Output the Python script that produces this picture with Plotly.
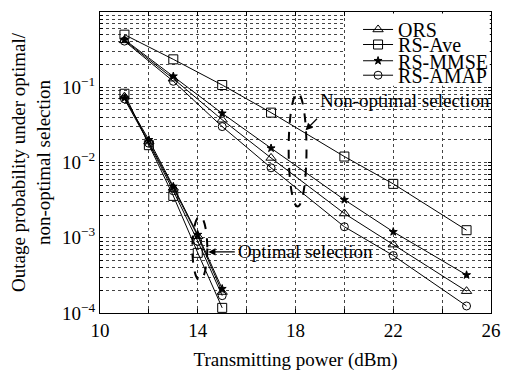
import plotly.graph_objects as go

# ---- data ----
x_nonopt = [11, 13, 15, 17, 20, 22, 25]
ors_non = [0.42, 0.13, 0.037, 0.0115, 0.0021, 0.00081, 0.000195]
ave_non = [0.50, 0.235, 0.107, 0.046, 0.012, 0.0052, 0.00126]
mmse_non = [0.43, 0.14, 0.045, 0.0155, 0.0032, 0.0012, 0.00032]
amap_non = [0.41, 0.12, 0.030, 0.0085, 0.0014, 0.00058, 0.000124]

x_opt = [11, 12, 13, 14, 15]
ors_opt = [0.075, 0.019, 0.0046, 0.00105, 0.00019]
ave_opt = [0.082, 0.017, 0.0036, 0.00063, 0.000117]
mmse_opt = [0.072, 0.020, 0.0048, 0.0011, 0.00021]
amap_opt = [0.070, 0.018, 0.0042, 0.0009, 0.00017]

series_names = ["ORS", "RS-Ave", "RS-MMSE", "RS-AMAP"]
x_ticks = [10, 14, 18, 22, 26]
y_decades = [-4, -3, -2, -1, 0]

FONT = "Liberation Serif"
symbols = {"ORS": "triangle-up-open", "RS-Ave": "square-open",
           "RS-MMSE": "star", "RS-AMAP": "circle-open"}
sizes = {"ORS": 9, "RS-Ave": 9, "RS-MMSE": 6, "RS-AMAP": 8}
non = {"ORS": ors_non, "RS-Ave": ave_non, "RS-MMSE": mmse_non, "RS-AMAP": amap_non}
opt = {"ORS": ors_opt, "RS-Ave": ave_opt, "RS-MMSE": mmse_opt, "RS-AMAP": amap_opt}
legend_ids = ["legend", "legend2", "legend3", "legend4"]
legend_rows = [0.942, 0.892, 0.838, 0.790]

fig = go.Figure()
for i, name in enumerate(series_names):
    mk = dict(symbol=symbols[name], size=sizes[name], color="black",
              line=dict(color="black", width=1))
    fig.add_trace(go.Scatter(x=x_nonopt, y=non[name], mode="lines+markers",
                             name=name, legendgroup=name, legend=legend_ids[i],
                             line=dict(color="black", width=1), marker=mk))
    fig.add_trace(go.Scatter(x=x_opt, y=opt[name], mode="lines+markers",
                             name=name, legendgroup=name, showlegend=False,
                             legend=legend_ids[i],
                             line=dict(color="black", width=1), marker=mk))

# grid ticks
x_grid = list(range(10, 27, 2))
x_text = [str(v) if v in x_ticks else "" for v in x_grid]
y_vals, y_text = [], []
for e in y_decades:
    for k in range(1, 10):
        if e == 0 and k > 1:
            break
        y_vals.append(k * 10 ** e)
        y_text.append(f"10<sup>{e if e >= 0 else '−' + str(-e)}</sup>" if k == 1 else "")

fig.update_xaxes(range=[10, 26], tickvals=x_grid, ticktext=x_text,
                 showgrid=True, gridcolor="#444", griddash="dot", gridwidth=1,
                 showline=True, linecolor="black", linewidth=1, mirror="ticks",
                 ticks="inside", ticklen=4, tickcolor="black", zeroline=False,
                 tickfont=dict(family=FONT, size=19, color="black"),
                 title=dict(text="Transmitting power (dBm)",
                            font=dict(family=FONT, size=19, color="black"), standoff=12))
fig.update_yaxes(type="log", range=[-4, 0], tickvals=y_vals, ticktext=y_text,
                 showgrid=True, gridcolor="#444", griddash="dot", gridwidth=1,
                 showline=True, linecolor="black", linewidth=1, mirror="ticks",
                 ticks="inside", ticklen=3, tickcolor="black",
                 tickfont=dict(family=FONT, size=19, color="black"),
                 title=dict(text="Outage probability under optimal/<br>non-optimal selection",
                            font=dict(family=FONT, size=19, color="black"), standoff=6))

# white backing behind legend (no data in this corner)
fig.add_shape(type="rect", xref="x", yref="y domain", x0=20.06, x1=25.95,
              y0=0.755, y1=0.995, fillcolor="white", line=dict(width=0),
              layer="above")

# dashed ellipses
fig.add_shape(type="circle", xref="x", yref="y domain", x0=17.72, x1=18.45,
              y0=0.354, y1=0.731, line=dict(color="black", width=2, dash="dash"))
fig.add_shape(type="circle", xref="x", yref="y domain", x0=13.78, x1=14.39,
              y0=0.108, y1=0.321, line=dict(color="black", width=2, dash="dash"))

# arrows + labels
fig.add_annotation(x=18.41, y=0.607, xref="x", yref="y domain", text="",
                   showarrow=True, ax=13, ay=-13, arrowhead=2, arrowsize=1.2,
                   arrowwidth=1.2, arrowcolor="black")
fig.add_annotation(x=18.93, y=0.705, xref="x", yref="y domain",
                   text="Non-optimal selection", showarrow=False,
                   xanchor="left", yanchor="middle",
                   font=dict(family=FONT, size=19, color="black"))
fig.add_annotation(x=14.43, y=0.203, xref="x", yref="y domain", text="",
                   showarrow=True, ax=28, ay=0, arrowhead=2, arrowsize=1.2,
                   arrowwidth=1.2, arrowcolor="black")
fig.add_annotation(x=15.56, y=0.203, xref="x", yref="y domain",
                   text="Optimal selection", showarrow=False,
                   xanchor="left", yanchor="middle",
                   font=dict(family=FONT, size=19, color="black"))

legend_common = dict(xanchor="left", yanchor="middle", bgcolor="rgba(0,0,0,0)",
                     borderwidth=0, itemwidth=30,
                     font=dict(family=FONT, size=20, color="black"))
layout_legends = {lid: dict(x=0.66, y=ly, **legend_common)
                  for lid, ly in zip(legend_ids, legend_rows)}

fig.update_layout(
    width=511, height=376,
    margin=dict(l=100, r=17, t=10, b=61),
    paper_bgcolor="white", plot_bgcolor="white",
    font=dict(family=FONT, color="black"),
    **layout_legends,
)

fig.write_html("out.html")
